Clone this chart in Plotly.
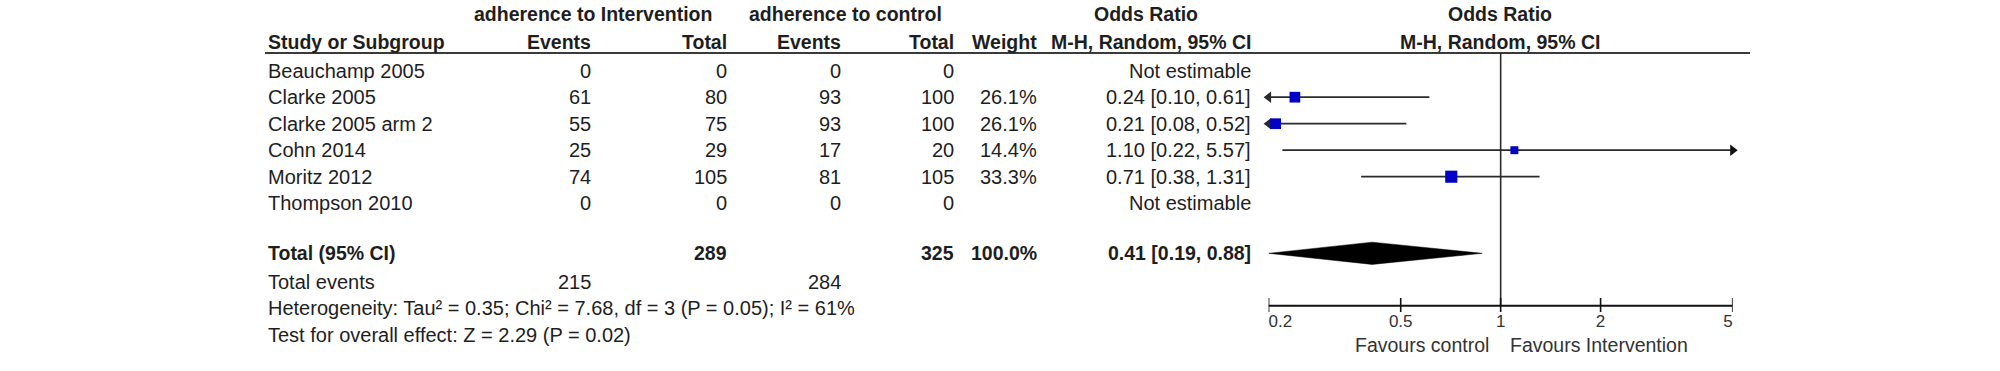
import math
import plotly.graph_objects as go

# ---------------- data ----------------
studies = ["Beauchamp 2005", "Clarke 2005", "Clarke 2005 arm 2", "Cohn 2014", "Moritz 2012", "Thompson 2010"]
int_events = [0, 61, 55, 25, 74, 0]
int_total = [0, 80, 75, 29, 105, 0]
ctl_events = [0, 93, 93, 17, 81, 0]
ctl_total = [0, 100, 100, 20, 105, 0]
weights = [None, 26.1, 26.1, 14.4, 33.3, None]
or_est = [None, 0.24, 0.21, 1.10, 0.71, None]
or_lo = [None, 0.10, 0.08, 0.22, 0.38, None]
or_hi = [None, 0.61, 0.52, 5.57, 1.31, None]

total_int = 289
total_ctl = 325
total_weight = 100.0
total_or = (0.41, 0.19, 0.88)
total_events_int = 215
total_events_ctl = 284
heterogeneity = "Heterogeneity: Tau² = 0.35; Chi² = 7.68, df = 3 (P = 0.05); I² = 61%"
overall = "Test for overall effect: Z = 2.29 (P = 0.02)"

tick_vals = [0.2, 0.5, 1, 2, 5]
tick_labels = ["0.2", "0.5", "1", "2", "5"]
axis_min, axis_max = 0.2, 5
favours_left = "Favours control"
favours_right = "Favours Intervention"

# ---------------- layout constants ----------------
W, H = 2000, 371
FONT = "Liberation Sans, Arial, sans-serif"
TXT = "#1e1e1e"
REG = 20
BOLD = 19.5
row_px0, row_step = 70.7, 26.5
y_top = -row_px0 / row_step
y_bot = (H - row_px0) / row_step


def prow(px):
    return (px - row_px0) / row_step


forest_left_px, forest_right_px = 1268.6, 1732.7

col_name = 267
col_ie = 591.7
col_it = 728.3
col_ce = 841.7
col_ct = 955
col_w = 1038.3
col_or = 1251.7
col_plot = 1500.3

r_head1 = prow(14.3)
r_head2 = prow(41.7)
r_line = prow(53)
r_total = prow(253.3)
r_tev = prow(281.7)
r_het = prow(308.3)
r_test = prow(335)
r_axis = prow(305.7)
r_tick0, r_tick1 = prow(298), prow(312)
r_ticklab = prow(323)
r_fav = prow(345)

fig = go.Figure()
ann = []


def txt(x, y, s, anchor="left", bold=False, size=None, color=TXT):
    ann.append(dict(
        x=x, y=y, xref="x", yref="y", text=("<b>%s</b>" % s) if bold else s,
        showarrow=False, xanchor=anchor, yanchor="middle", borderpad=0,
        font=dict(family=FONT, size=size or (BOLD if bold else REG), color=color),
    ))


# headers
txt(593, r_head1, "adherence to Intervention", "center", True)
txt(845, r_head1, "adherence to control", "center", True)
txt(1146, r_head1, "Odds Ratio", "center", True)
txt(col_plot, r_head1, "Odds Ratio", "center", True)
txt(col_name, r_head2, "Study or Subgroup", "left", True)
txt(col_ie, r_head2, "Events", "right", True)
txt(col_it, r_head2, "Total", "right", True)
txt(col_ce, r_head2, "Events", "right", True)
txt(col_ct, r_head2, "Total", "right", True)
txt(col_w, r_head2, "Weight", "right", True)
txt(col_or, r_head2, "M-H, Random, 95% CI", "right", True)
txt(col_plot, r_head2, "M-H, Random, 95% CI", "center", True)

# study rows
for i, s in enumerate(studies):
    txt(col_name, i, s, "left")
    txt(col_ie, i, str(int_events[i]), "right")
    txt(col_it, i, str(int_total[i]), "right")
    txt(col_ce, i, str(ctl_events[i]), "right")
    txt(col_ct, i, str(ctl_total[i]), "right")
    if weights[i] is not None:
        txt(col_w, i, "%.1f%%" % weights[i], "right")
    if or_est[i] is None:
        txt(col_or, i, "Not estimable", "right")
    else:
        txt(col_or, i, "%.2f [%.2f, %.2f]" % (or_est[i], or_lo[i], or_hi[i]), "right")

# total rows
txt(col_name, r_total, "Total (95% CI)", "left", True)
txt(col_it, r_total, str(total_int), "right", True)
txt(col_ct, r_total, str(total_ctl), "right", True)
txt(col_w, r_total, "%.1f%%" % total_weight, "right", True)
txt(col_or, r_total, "%.2f [%.2f, %.2f]" % total_or, "right", True)
txt(col_name, r_tev, "Total events", "left")
txt(col_ie, r_tev, str(total_events_int), "right")
txt(col_ce, r_tev, str(total_events_ctl), "right")
txt(col_name, r_het, heterogeneity, "left")
txt(col_name, r_test, overall, "left")

# favours labels
txt(1490, r_fav, favours_left, "right", size=19.5, color="#333")
txt(1509, r_fav, favours_right, "left", size=19.5, color="#333")

# header underline (pixel axis)
fig.add_trace(go.Scatter(x=[265, 1750], y=[r_line, r_line], mode="lines",
                         line=dict(color="#3a3a3a", width=2), xaxis="x", yaxis="y",
                         hoverinfo="skip", showlegend=False))

# ---- forest plot on log axis x2 ----
LINE = "#2a2a2a"
# vertical line of no effect
fig.add_trace(go.Scatter(x=[1, 1], y=[r_line, r_axis], mode="lines",
                         line=dict(color=LINE, width=1.6), xaxis="x2", yaxis="y",
                         hoverinfo="skip", showlegend=False, cliponaxis=False))

for i in range(len(studies)):
    if or_est[i] is None:
        continue
    lo = max(or_lo[i], axis_min)
    hi = min(or_hi[i], axis_max)
    fig.add_trace(go.Scatter(x=[lo, hi], y=[i, i], mode="lines",
                             line=dict(color=LINE, width=1.8), xaxis="x2", yaxis="y",
                             hoverinfo="skip", showlegend=False, cliponaxis=False))
    if or_lo[i] < axis_min:
        fig.add_trace(go.Scatter(x=[axis_min], y=[i], mode="markers",
                                 marker=dict(symbol="triangle-left", size=10, color=LINE,
                                             line=dict(width=0)),
                                 xaxis="x2", yaxis="y", hoverinfo="skip",
                                 showlegend=False, cliponaxis=False))
    if or_hi[i] > axis_max:
        fig.add_trace(go.Scatter(x=[axis_max], y=[i], mode="markers",
                                 marker=dict(symbol="triangle-right", size=10, color="#111",
                                             line=dict(width=0)),
                                 xaxis="x2", yaxis="y", hoverinfo="skip",
                                 showlegend=False, cliponaxis=False))
    fig.add_trace(go.Scatter(x=[or_est[i]], y=[i], mode="markers",
                             marker=dict(symbol="square", size=2.1 * math.sqrt(weights[i]),
                                         color="#0000c8", line=dict(width=0)),
                             xaxis="x2", yaxis="y", hoverinfo="skip",
                             showlegend=False, cliponaxis=False))

# diamond
est, lo, hi = total_or
lo_c = max(lo, axis_min)
hh = 0.42
fig.add_trace(go.Scatter(x=[lo_c, est, hi, est, lo_c], y=[r_total, r_total - hh, r_total, r_total + hh, r_total],
                         mode="lines", fill="toself", fillcolor="black",
                         line=dict(color="black", width=0.5), xaxis="x2", yaxis="y",
                         hoverinfo="skip", showlegend=False, cliponaxis=False))

# axis line
fig.add_trace(go.Scatter(x=[axis_min, axis_max], y=[r_axis, r_axis], mode="lines",
                         line=dict(color="#111", width=2), xaxis="x2", yaxis="y",
                         hoverinfo="skip", showlegend=False, cliponaxis=False))
for v in tick_vals:
    fig.add_trace(go.Scatter(x=[v, v], y=[r_tick0, r_tick1], mode="lines",
                             line=dict(color="#111", width=1.6), xaxis="x2", yaxis="y",
                             hoverinfo="skip", showlegend=False, cliponaxis=False))
positions = []
for k in range(len(tick_vals)):
    if k == 0:
        positions.append("middle right")
    elif k == len(tick_vals) - 1:
        positions.append("middle left")
    else:
        positions.append("middle center")
fig.add_trace(go.Scatter(x=tick_vals, y=[r_ticklab] * len(tick_vals), mode="text",
                         text=tick_labels, textposition=positions,
                         textfont=dict(family=FONT, size=17, color="#333"),
                         xaxis="x2", yaxis="y", hoverinfo="skip",
                         showlegend=False, cliponaxis=False))

fig.update_layout(
    width=W, height=H,
    margin=dict(l=0, r=0, t=0, b=0),
    paper_bgcolor="white", plot_bgcolor="rgba(0,0,0,0)",
    showlegend=False,
    annotations=ann,
    xaxis=dict(range=[0, W], domain=[0, 1], visible=False, fixedrange=True),
    xaxis2=dict(type="log", range=[math.log10(axis_min), math.log10(axis_max)],
                domain=[forest_left_px / W, forest_right_px / W], anchor="y",
                visible=False, fixedrange=True),
    yaxis=dict(range=[y_bot, y_top], domain=[0, 1], visible=False, fixedrange=True),
)

fig.write_html("out.html", config={"displayModeBar": False},
               post_script="document.body.style.margin='0';document.body.style.overflow='hidden';")
